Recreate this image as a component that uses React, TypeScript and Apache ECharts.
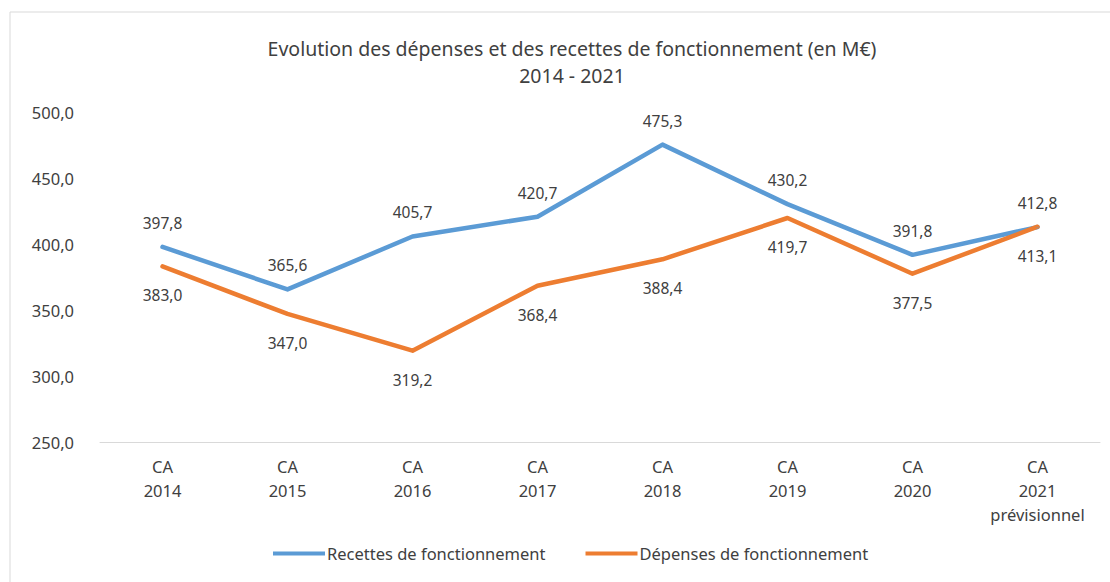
import React, { useEffect, useRef } from "react";
import * as echarts from "echarts";

const categories = ["CA\n2014", "CA\n2015", "CA\n2016", "CA\n2017", "CA\n2018", "CA\n2019", "CA\n2020", "CA\n2021\nprévisionnel"];
const recettes = [397.8, 365.6, 405.7, 420.7, 475.3, 430.2, 391.8, 412.8];
const depenses = [383.0, 347.0, 319.2, 368.4, 388.4, 419.7, 377.5, 413.1];
const seriesNames = ["Recettes de fonctionnement", "Dépenses de fonctionnement"];
const titleLines = ["Evolution des dépenses et des recettes de fonctionnement (en M€)", "2014 - 2021"];

const FONT = "'Noto Sans', sans-serif";
const fmt = (v: number) => v.toFixed(1).replace(".", ",");

export default function App() {
  const ref = useRef<HTMLDivElement>(null);
  useEffect(() => {
    document.body.style.margin = "0";
    const chart = echarts.init(ref.current!, null, { renderer: "svg" });
    chart.setOption({
      animation: false,
      backgroundColor: "#ffffff",
      textStyle: { fontFamily: FONT },
      graphic: [
        {
          type: "rect",
          shape: { x: 10, y: 12, width: 1120, height: 600 },
          style: { fill: "none", stroke: "#d9d9d9", lineWidth: 1 },
          silent: true,
        },
      ],
      title: {
        text: titleLines.join("\n"),
        left: 567,
        textAlign: "center",
        top: 30,
        textStyle: { fontFamily: FONT, fontSize: 19.5, fontWeight: "normal", color: "#404040", lineHeight: 27 },
      },
      legend: {
        bottom: 15,
        left: 268,
        icon: "rect",
        itemWidth: 52,
        itemHeight: 4,
        itemGap: 40,
        textStyle: { fontFamily: FONT, fontSize: 16.5, color: "#404040", padding: [0, 0, 0, -3] },
        data: seriesNames,
      },
      grid: { left: 100, right: 10, top: 112, bottom: 140 },
      xAxis: {
        type: "category",
        data: categories,
        boundaryGap: true,
        axisLine: { show: true, lineStyle: { color: "#d9d9d9", width: 1 } },
        axisTick: { show: false },
        axisLabel: { fontFamily: FONT, fontSize: 16.5, color: "#404040", lineHeight: 24, margin: 12 },
      },
      yAxis: {
        type: "value",
        min: 250,
        max: 500,
        interval: 50,
        splitLine: { show: false },
        axisLine: { show: false },
        axisTick: { show: false },
        axisLabel: { fontFamily: FONT, fontSize: 16.5, color: "#404040", margin: 26, formatter: (v: number) => fmt(v) },
      },
      series: [
        {
          name: seriesNames[0],
          type: "line",
          data: recettes,
          symbol: "circle",
          symbolSize: 2,
          showSymbol: true,
          lineStyle: { color: "#5B9BD5", width: 4.5, cap: "round", join: "round" },
          itemStyle: { color: "#5B9BD5" },
          label: { show: true, position: "top", distance: 15, fontFamily: FONT, fontSize: 15.5, color: "#404040", formatter: (p: any) => fmt(p.value) },
        },
        {
          name: seriesNames[1],
          type: "line",
          data: depenses,
          symbol: "circle",
          symbolSize: 2,
          showSymbol: true,
          lineStyle: { color: "#ED7D31", width: 4.5, cap: "round", join: "round" },
          itemStyle: { color: "#ED7D31" },
          label: { show: true, position: "bottom", distance: 20, fontFamily: FONT, fontSize: 15.5, color: "#404040", formatter: (p: any) => fmt(p.value) },
        },
      ],
    });
    return () => chart.dispose();
  }, []);
  return <div ref={ref} style={{ width: 1110, height: 582 }} />;
}
